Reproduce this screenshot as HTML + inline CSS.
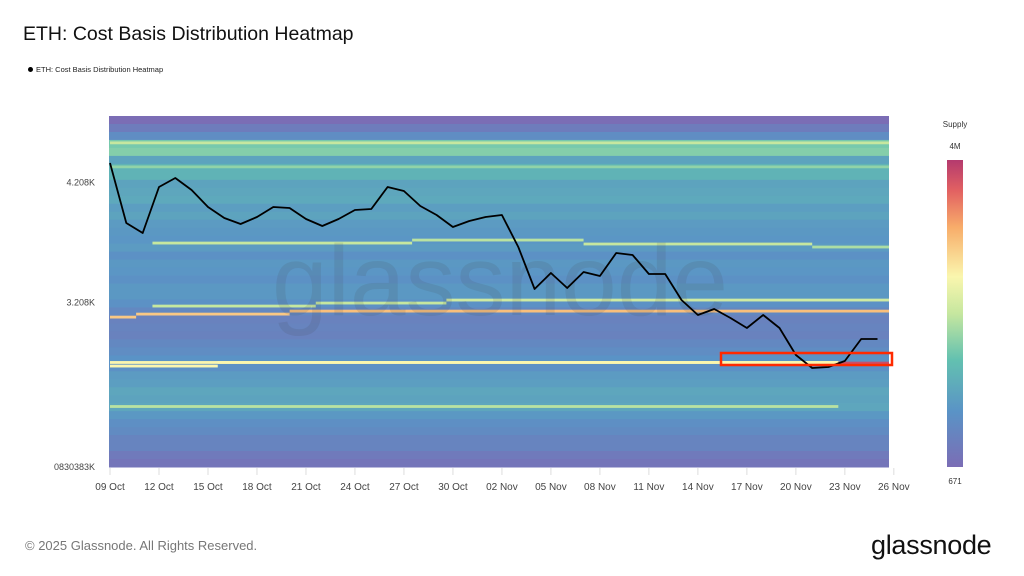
<!DOCTYPE html>
<html><head><meta charset="utf-8">
<style>
html,body{margin:0;padding:0;background:#fff;}
body{width:1024px;height:576px;overflow:hidden;position:relative;font-family:"Liberation Sans",sans-serif;}
.t{position:absolute;white-space:nowrap;}
</style></head>
<body>
<div class="t" style="left:23px;top:23px;font-size:19.5px;color:#111;">ETH: Cost Basis Distribution Heatmap</div>
<div class="t" style="left:28px;top:65px;font-size:7.5px;color:#222;"><span style="display:inline-block;width:5px;height:5px;border-radius:50%;background:#000;margin-right:3px;vertical-align:0px;"></span>ETH: Cost Basis Distribution Heatmap</div>
<svg id="chart" width="1024" height="576" style="position:absolute;left:0;top:0;" xmlns="http://www.w3.org/2000/svg">
<defs>
<linearGradient id="cb" x1="0" y1="1" x2="0" y2="0">
<stop offset="0" stop-color="#7b6db5"/><stop offset="0.18" stop-color="#5a93c6"/><stop offset="0.35" stop-color="#63c1b0"/><stop offset="0.5" stop-color="#c6e79f"/><stop offset="0.62" stop-color="#faf6ae"/><stop offset="0.78" stop-color="#f8ad6a"/><stop offset="0.9" stop-color="#e26162"/><stop offset="1" stop-color="#b43a6e"/>
</linearGradient>
</defs>
<g id="cells"></g>
<g id="lines"></g>
<text x="500" y="315" text-anchor="middle" font-family="Liberation Sans, sans-serif" font-size="100" fill="rgba(70,70,80,0.13)">glassnode</text>
<path id="price" fill="none" stroke="#000" stroke-width="1.8" stroke-linejoin="round"/>
<rect x="721" y="353" width="171" height="12" fill="none" stroke="#ff2a00" stroke-width="2.5"/>
<g id="xaxis"></g><g id="yaxis"></g>
<text x="955" y="127" text-anchor="middle" font-size="8" fill="#333">Supply</text>
<text x="955" y="149" text-anchor="middle" font-size="8" fill="#333">4M</text>
<rect x="947" y="160" width="16" height="307" fill="url(#cb)"/>
<text x="955" y="484" text-anchor="middle" font-size="8" fill="#333">671</text>
</svg>
<div class="t" style="left:25px;top:538px;font-size:13px;color:#777;">© 2025 Glassnode. All Rights Reserved.</div>
<div class="t" style="left:871px;top:530px;font-size:27px;color:#111;letter-spacing:-0.3px;">glassnode</div>
<script>
const dates=["09 Oct","12 Oct","15 Oct","18 Oct","21 Oct","24 Oct","27 Oct","30 Oct","02 Nov","05 Nov","08 Nov","11 Nov","14 Nov","17 Nov","20 Nov","23 Nov","26 Nov"];
const yTicks=[4208,3208];
const yTickLabels=["4.208K","3.208K"];
const bottomLabel="0830383K";
const prices=[4366,3866,3783,4166,4241,4141,4000,3908,3858,3916,4000,3991,3900,3841,3900,3975,3983,4166,4133,4008,3933,3833,3883,3916,3933,3666,3316,3450,3325,3458,3425,3616,3600,3441,3441,3225,3100,3150,3075,2991,3100,2991,2766,2658,2666,2716,2900,2900];
// band intensities (0..1), top (high price) to bottom
const bandIntensity=[0.0,0.07,0.15,0.38,0.4,0.24,0.3,0.3,0.24,0.25,0.26,0.22,0.24,0.21,0.2,0.19,0.21,0.17,0.2,0.19,0.17,0.2,0.2,0.17,0.13,0.1,0.11,0.1,0.13,0.15,0.18,0.17,0.21,0.22,0.25,0.24,0.25,0.2,0.16,0.14,0.11,0.11,0.06,0.04];
// bright supply lines: price level, start day, end day, intensity
const linePrice=[4535,4335,3700,3725,3692,3667,3083,3108,3133,3175,3200,3225,2675,2705,2705,2700,2338];
const lineStart=[0,0,2.6,18.5,29,43,0,1.6,11,2.6,12.6,20.6,0,6.6,0,44.6,0];
const lineEnd=[47.9,47.9,18.5,29,43,47.9,1.6,11,47.9,12.6,20.6,47.9,6.6,44.6,44.6,47.9,44.6];
const lineValue=[0.5,0.42,0.5,0.48,0.5,0.46,0.72,0.72,0.74,0.5,0.5,0.52,0.62,0.62,0.62,0.95,0.48];

const X0=109,X1=889,Y0=116,Y1=467,DAYPX=16.33;
function xDay(d){return 110+d*DAYPX;}
function yP(p){return 302-(p-3208)*0.12;}
const stops=[[0,[123,109,181]],[0.18,[90,147,198]],[0.35,[99,193,176]],[0.5,[198,231,159]],[0.62,[250,246,174]],[0.78,[248,173,106]],[0.9,[226,97,98]],[1,[180,58,110]]];
function col(v){v=Math.max(0,Math.min(1,v));for(let i=1;i<stops.length;i++){if(v<=stops[i][0]){const a=stops[i-1],b=stops[i],t=(v-a[0])/(b[0]-a[0]);return 'rgb('+a[1].map((c,k)=>Math.round(c+(b[1][k]-c)*t)).join(',')+')';}}return 'rgb(180,58,110)';}
const NS="http://www.w3.org/2000/svg";
const cells=document.getElementById('cells');
const bh=(Y1-Y0)/bandIntensity.length;
bandIntensity.forEach((v,i)=>{
  const r=document.createElementNS(NS,'rect');
  r.setAttribute('x',X0);r.setAttribute('y',Y0+i*bh);r.setAttribute('width',X1-X0);r.setAttribute('height',bh+0.5);
  r.setAttribute('fill',col(v));
  
  
  cells.appendChild(r);
});
const lg=document.getElementById('lines');
linePrice.forEach((p,i)=>{
  const r=document.createElementNS(NS,'rect');
  const xa=Math.max(X0,xDay(lineStart[i])),xb=Math.min(X1,xDay(lineEnd[i]));
  r.setAttribute('x',xa);r.setAttribute('y',yP(p)-1.3);r.setAttribute('width',xb-xa);r.setAttribute('height',2.8);
  r.setAttribute('fill',col(lineValue[i]));
  
  
  lg.appendChild(r);
});
document.getElementById('price').setAttribute('d',prices.map((p,i)=>(i?'L':'M')+xDay(i).toFixed(1)+','+yP(p).toFixed(1)).join(' '));
const xa=document.getElementById('xaxis');
dates.forEach((d,i)=>{
  const x=xDay(i*3);
  const l=document.createElementNS(NS,'line');
  l.setAttribute('x1',x);l.setAttribute('x2',x);l.setAttribute('y1',468);l.setAttribute('y2',475);l.setAttribute('stroke','#ddd');
  
  
  xa.appendChild(l);
  const t=document.createElementNS(NS,'text');
  t.setAttribute('x',x);t.setAttribute('y',490);t.setAttribute('text-anchor','middle');t.setAttribute('font-size','10');t.setAttribute('fill','#444');
  t.textContent=d;
  
  
  xa.appendChild(t);
});
const ya=document.getElementById('yaxis');
yTicks.forEach((v,i)=>{
  const t=document.createElementNS(NS,'text');
  t.setAttribute('x',95);t.setAttribute('y',yP(v)+3.5);t.setAttribute('text-anchor','end');t.setAttribute('font-size','9');t.setAttribute('fill','#444');
  t.textContent=yTickLabels[i];
  
  
  ya.appendChild(t);
});
const bt=document.createElementNS(NS,'text');
bt.setAttribute('x',95);bt.setAttribute('y',470);bt.setAttribute('text-anchor','end');bt.setAttribute('font-size','9');bt.setAttribute('fill','#444');
bt.textContent=bottomLabel;


ya.appendChild(bt);
</script>
</body></html>
